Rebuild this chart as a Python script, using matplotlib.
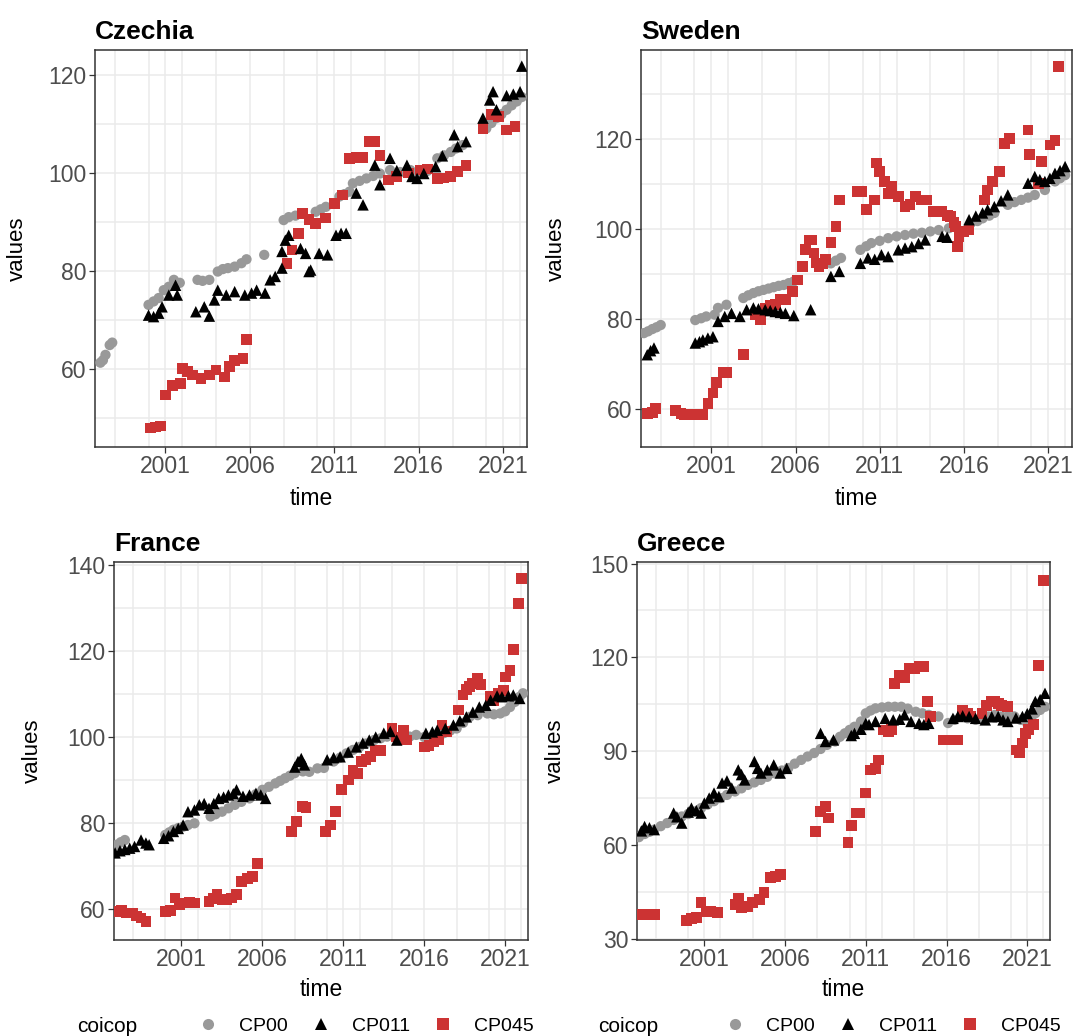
import numpy as np
import matplotlib
matplotlib.use("Agg")
import matplotlib.pyplot as plt
from matplotlib.lines import Line2D

plt.rcParams['font.family'] = ['Liberation Sans', 'DejaVu Sans']

# ---- Czechia ----
cz_cp00_t = [1997.15, 1997.3, 1997.45, 1997.7, 1997.85, 2000.0, 2000.3, 2000.6, 2000.9, 2001.2, 2001.5, 2001.85,
             2002.9, 2003.2, 2003.6, 2004.1, 2004.4, 2004.7, 2005.1, 2005.5, 2005.8, 2006.85, 2008.0, 2008.3, 2008.7,
             2009.9, 2010.2, 2010.5, 2011.3, 2011.6, 2011.9, 2012.1, 2012.5, 2012.9, 2013.3, 2013.7, 2014.3, 2014.9,
             2015.5, 2016.0, 2016.5, 2017.1, 2017.5, 2017.9, 2018.2, 2018.6, 2020.0, 2020.3, 2020.6, 2020.9, 2021.2,
             2021.5, 2021.8, 2022.1]
cz_cp00_v = [61.3, 61.8, 62.9, 64.9, 65.4, 73.1, 73.8, 74.5, 76.1, 76.8, 78.2, 77.6,
             78.2, 78.0, 78.2, 79.9, 80.4, 80.6, 80.9, 81.6, 82.4, 83.3, 90.4, 91.0, 91.3,
             92.1, 92.6, 93.1, 95.2, 95.7, 96.2, 97.9, 98.4, 98.9, 99.4, 99.9, 100.6, 100.2,
             100.6, 100.1, 100.4, 103.0, 103.6, 104.3, 105.0, 105.7, 109.1, 110.2, 111.2, 112.0, 112.9,
             113.8, 114.6, 115.5]
cz_cp011_t = [2000.0, 2000.3, 2000.6, 2000.8, 2001.2, 2001.6, 2001.7, 2002.8, 2003.3, 2003.6, 2003.9, 2004.1,
              2004.6, 2005.1, 2005.7, 2006.1, 2006.4, 2006.9, 2007.2, 2007.5, 2007.9, 2007.9, 2008.1, 2008.3,
              2009.0, 2009.3, 2009.5, 2009.6, 2010.1, 2010.6, 2011.1, 2011.4, 2011.7, 2012.3, 2012.7, 2013.4,
              2013.7, 2014.3, 2014.7, 2015.3, 2015.6, 2015.9, 2016.3, 2017.0, 2017.4, 2018.1, 2018.3, 2018.8,
              2019.8, 2020.2, 2020.4, 2020.6, 2021.2, 2021.6, 2022.0, 2022.1]
cz_cp011_v = [71.0, 70.7, 71.4, 72.7, 75.1, 77.1, 75.1, 71.7, 72.7, 70.8, 74.1, 76.1,
              75.1, 75.8, 75.1, 75.5, 76.1, 75.5, 78.2, 78.9, 80.6, 84.0, 86.3, 87.3,
              84.6, 83.6, 79.9, 80.2, 83.6, 83.3, 87.3, 87.7, 87.7, 95.9, 93.5, 101.6,
              97.6, 103.0, 100.5, 101.6, 99.3, 98.9, 99.9, 101.3, 103.5, 107.8, 105.4, 106.4,
              111.2, 114.9, 116.6, 112.9, 115.8, 116.1, 116.6, 121.8]
cz_cp045_t = [2000.1, 2000.4, 2000.7, 2001.0, 2001.4, 2001.9, 2002.0, 2002.3, 2002.6, 2003.1, 2003.6, 2004.0,
              2004.5, 2004.8, 2005.1, 2005.6, 2005.8, 2008.2, 2008.5, 2008.9, 2009.1, 2009.5, 2009.9, 2010.5,
              2011.0, 2011.5, 2011.9, 2012.3, 2012.7, 2013.1, 2013.4, 2013.7, 2014.2, 2014.7, 2015.4, 2016.1,
              2016.5, 2017.1, 2017.5, 2017.9, 2018.3, 2018.8, 2019.8, 2020.3, 2020.7, 2021.2, 2021.7]
cz_cp045_v = [48.0, 48.2, 48.4, 54.7, 56.7, 57.1, 60.1, 59.5, 58.8, 58.1, 58.8, 59.8,
              58.4, 60.5, 61.8, 62.2, 66.1, 81.6, 84.3, 87.6, 91.8, 90.5, 89.7, 90.8,
              93.8, 95.5, 103.0, 103.1, 103.2, 106.4, 106.4, 103.5, 98.6, 99.3, 100.0, 100.6,
              100.8, 98.9, 99.0, 99.3, 100.3, 101.6, 109.1, 112.0, 111.5, 108.8, 109.5]

# ---- Sweden ----
se_cp00_t = [1997.0, 1997.25, 1997.5, 1997.75, 1998.0, 2000.05, 2000.4, 2000.7, 2001.2, 2001.4, 2001.9, 2002.9,
             2003.2, 2003.5, 2003.8, 2004.1, 2004.4, 2004.7, 2005.0, 2005.3, 2005.6, 2005.9, 2008.1, 2008.4,
             2008.7, 2009.85, 2010.2, 2010.5, 2011.0, 2011.5, 2012.0, 2012.5, 2013.0, 2013.5, 2014.0, 2014.5,
             2015.1, 2016.4, 2016.8, 2017.1, 2017.5, 2017.8, 2018.6, 2019.0, 2019.4, 2019.8, 2020.2, 2020.8,
             2021.4, 2021.7, 2022.0]
se_cp00_v = [76.9, 77.3, 77.8, 78.2, 78.7, 79.8, 80.2, 80.6, 81.0, 82.5, 83.2, 84.7,
             85.3, 85.8, 86.2, 86.5, 86.8, 87.1, 87.4, 87.6, 88.0, 88.4, 92.4, 93.0,
             93.6, 95.4, 96.2, 96.9, 97.4, 98.0, 98.4, 98.7, 99.0, 99.2, 99.5, 99.8,
             100.2, 101.3, 101.8, 102.4, 103.0, 103.6, 105.4, 106.0, 106.5, 107.0, 107.6, 108.7,
             110.6, 111.3, 112.0]
se_cp011_t = [1997.2, 1997.4, 1997.6, 2000.05, 2000.3, 2000.5, 2000.8, 2001.1, 2001.4, 2001.8, 2002.2, 2002.7,
              2003.1, 2003.5, 2003.8, 2004.2, 2004.5, 2004.8, 2005.1, 2005.4, 2005.9, 2006.9, 2008.1, 2008.6,
              2009.85, 2010.3, 2010.7, 2011.1, 2011.5, 2012.1, 2012.5, 2012.9, 2013.3, 2013.7, 2014.7, 2015.0,
              2016.3, 2016.7, 2017.1, 2017.4, 2017.8, 2018.2, 2018.6, 2019.8, 2020.2, 2020.5, 2020.8, 2021.1,
              2021.4, 2021.7, 2022.0]
se_cp011_v = [72.1, 73.0, 73.6, 74.7, 75.0, 75.4, 75.8, 76.1, 79.5, 80.6, 81.3, 80.6,
              82.1, 82.5, 82.3, 82.1, 81.9, 81.7, 81.5, 81.3, 80.8, 82.1, 89.5, 90.6,
              92.4, 93.6, 93.3, 94.3, 93.9, 95.4, 95.8, 96.1, 96.8, 97.6, 98.4, 98.2,
              102.1, 102.9, 103.6, 104.3, 105.0, 106.3, 107.6, 110.2, 111.7, 111.0, 110.6, 111.3,
              112.4, 113.0, 113.9]
se_cp045_t = [1997.2, 1997.5, 1997.7, 1998.9, 1999.2, 1999.4, 1999.7, 2000.0, 2000.3, 2000.5, 2000.8, 2001.1,
              2001.3, 2001.7, 2001.9, 2002.9, 2003.6, 2003.9, 2004.2, 2004.5, 2004.8, 2005.1, 2005.4, 2005.8,
              2006.1, 2006.4, 2006.6, 2006.8, 2006.95, 2007.1, 2007.25, 2007.4, 2007.6, 2007.8, 2008.1, 2008.4,
              2008.6, 2009.7, 2009.95, 2010.2, 2010.7, 2010.8, 2011.0, 2011.3, 2011.5, 2011.7, 2012.1, 2012.5,
              2012.8, 2013.1, 2013.5, 2013.8, 2014.2, 2014.5, 2014.7, 2015.0, 2015.2, 2015.4, 2015.5, 2015.6,
              2015.7, 2016.0, 2016.3, 2017.2, 2017.4, 2017.7, 2018.1, 2018.4, 2018.7, 2019.8, 2019.9, 2020.4,
              2020.6, 2021.1, 2021.4, 2021.6]
se_cp045_v = [59.1, 59.3, 60.2, 59.7, 59.0, 58.7, 58.8, 58.7, 58.8, 58.9, 61.3, 63.6,
              65.9, 68.1, 68.1, 72.1, 81.0, 80.0, 82.5, 83.0, 83.2, 84.3, 84.3, 86.1,
              88.7, 91.7, 95.4, 97.6, 97.6, 94.7, 92.5, 91.7, 92.4, 93.2, 97.0, 100.6,
              106.5, 108.4, 108.4, 104.3, 106.5, 114.7, 112.8, 110.6, 108.0, 109.5, 107.3, 105.0,
              105.5, 107.3, 106.5, 106.5, 103.9, 103.9, 103.9, 103.0, 102.8, 101.5, 100.6, 96.1,
              98.4, 99.5, 99.9, 106.5, 108.7, 110.6, 112.8, 119.1, 120.2, 122.0, 116.5, 110.2,
              115.0, 118.7, 119.7, 136.1]

# ---- France ----
fr_cp00_t = [1997.0, 1997.25, 1997.5, 2000.0, 2000.25, 2000.5, 2000.8, 2001.1, 2001.4, 2001.8, 2002.8, 2003.1,
             2003.5, 2003.9, 2004.3, 2004.7, 2005.2, 2005.6, 2006.0, 2006.4, 2006.8, 2007.1, 2007.4, 2007.7,
             2008.0, 2008.5, 2008.9, 2009.4, 2009.8, 2010.4, 2010.8, 2011.2, 2011.6, 2012.0, 2012.4, 2012.9,
             2013.3, 2013.7, 2014.2, 2014.7, 2015.1, 2015.5, 2016.0, 2016.4, 2016.8, 2017.2, 2017.6, 2018.0,
             2018.4, 2018.8, 2019.3, 2019.9, 2020.3, 2020.7, 2021.0, 2021.3, 2021.6, 2021.9, 2022.1]
fr_cp00_v = [74.9, 75.5, 76.0, 77.2, 77.8, 78.4, 78.8, 79.1, 79.5, 79.9, 81.5, 82.0,
             82.6, 83.4, 84.2, 84.9, 85.7, 86.7, 87.7, 88.4, 89.2, 89.8, 90.4, 91.0,
             91.6, 92.0, 91.9, 92.7, 92.8, 94.3, 95.2, 96.2, 97.0, 97.7, 98.5, 99.3,
             99.7, 100.1, 99.9, 99.7, 100.1, 100.5, 100.0, 99.7, 100.3, 100.9, 101.5, 102.0,
             103.3, 104.7, 105.1, 105.5, 105.3, 105.5, 106.0, 107.0, 108.2, 109.4, 110.2]
fr_cp011_t = [1996.9, 1997.2, 1997.5, 1997.8, 1998.1, 1998.5, 1998.8, 1999.0, 1999.9, 2000.2, 2000.5, 2000.8,
              2001.1, 2001.4, 2001.8, 2002.1, 2002.4, 2002.7, 2003.0, 2003.3, 2003.6, 2003.9, 2004.2, 2004.4,
              2004.8, 2005.2, 2005.6, 2005.9, 2006.2, 2008.0, 2008.2, 2008.4, 2008.6, 2010.0, 2010.4, 2010.8,
              2011.3, 2011.8, 2012.2, 2012.6, 2013.0, 2013.5, 2013.9, 2014.3, 2016.1, 2016.5, 2016.8, 2017.3,
              2017.8, 2018.2, 2018.6, 2019.0, 2019.4, 2019.8, 2020.1, 2020.5, 2020.8, 2021.2, 2021.5, 2021.9]
fr_cp011_v = [73.0, 73.5, 73.8, 74.1, 74.5, 76.0, 75.3, 74.9, 76.4, 77.0, 78.0, 78.7,
              79.5, 82.6, 83.0, 84.2, 84.5, 83.4, 84.5, 85.7, 86.0, 86.5, 86.8, 87.7,
              86.2, 86.5, 86.9, 86.5, 85.7, 93.0, 94.3, 95.0, 93.5, 94.7, 95.2, 95.4,
              96.5, 97.7, 98.6, 99.3, 100.0, 100.9, 101.3, 99.3, 100.9, 101.2, 101.6, 102.0,
              102.8, 103.8, 104.7, 105.8, 107.0, 107.4, 108.6, 109.6, 109.4, 109.6, 109.8, 109.0]
fr_cp045_t = [1997.0, 1997.3, 1997.6, 1997.95, 1998.2, 1998.5, 1998.8, 2000.0, 2000.3, 2000.6, 2000.9, 2001.1,
              2001.5, 2001.8, 2002.7, 2003.0, 2003.2, 2003.5, 2003.8, 2004.1, 2004.4, 2004.7, 2005.1, 2005.4,
              2005.7, 2007.8, 2008.1, 2008.5, 2008.7, 2009.9, 2010.2, 2010.5, 2010.9, 2011.3, 2011.6, 2011.9,
              2012.1, 2012.4, 2012.7, 2013.0, 2013.3, 2014.0, 2014.3, 2014.7, 2014.9, 2016.0, 2016.3, 2016.6,
              2016.9, 2017.1, 2017.4, 2018.1, 2018.4, 2018.6, 2018.8, 2019.0, 2019.3, 2019.5, 2020.1, 2020.3,
              2020.6, 2020.9, 2021.0, 2021.3, 2021.5, 2021.8, 2022.0]
fr_cp045_v = [59.4, 59.6, 59.0, 59.0, 58.3, 57.8, 57.0, 59.4, 59.5, 62.5, 61.0, 61.3,
              61.5, 61.3, 61.7, 62.4, 63.3, 62.1, 62.1, 62.5, 63.3, 66.4, 67.1, 67.5,
              70.5, 78.0, 80.3, 83.8, 83.5, 78.0, 79.5, 82.6, 87.7, 90.0, 92.3, 91.5,
              94.3, 94.8, 95.4, 97.0, 96.8, 102.0, 100.0, 101.6, 99.3, 97.7, 98.0, 98.9,
              99.4, 102.8, 101.3, 106.3, 109.8, 111.0, 111.7, 112.5, 113.6, 112.2, 109.4, 108.5,
              110.2, 110.9, 114.0, 115.6, 120.4, 131.2, 136.9]

# ---- Greece ----
gr_cp00_t = [1996.95, 1997.3, 1997.6, 1997.9, 1998.3, 1998.7, 1999.1, 1999.6, 2000.0, 2000.4, 2000.8, 2001.2,
             2001.6, 2002.0, 2002.4, 2002.9, 2003.3, 2003.7, 2004.1, 2004.5, 2004.9, 2005.3, 2005.8, 2006.2,
             2006.6, 2007.0, 2007.4, 2007.8, 2008.2, 2008.6, 2009.1, 2009.4, 2009.7, 2010.0, 2010.3, 2010.7,
             2011.0, 2011.3, 2011.6, 2012.0, 2012.4, 2012.8, 2013.2, 2013.6, 2014.1, 2014.5, 2014.9, 2015.5,
             2016.1, 2016.5, 2016.9, 2017.3, 2017.8, 2018.2, 2018.6, 2019.0, 2019.4, 2019.8, 2020.2, 2020.6,
             2021.0, 2021.3, 2021.5, 2021.8, 2022.1]
gr_cp00_v = [62.5, 63.5, 64.2, 64.9, 66.0, 67.0, 68.0, 69.1, 69.9, 70.7, 71.8, 72.9,
             74.0, 75.0, 76.0, 77.1, 78.1, 79.2, 80.0, 80.8, 81.8, 83.0, 83.8, 84.6,
             86.0, 87.2, 88.3, 89.4, 90.7, 92.0, 93.1, 94.6, 95.7, 96.8, 97.8, 99.5,
             102.1, 103.0, 103.7, 104.0, 104.2, 104.2, 104.2, 103.6, 102.6, 102.1, 101.6, 101.1,
             99.0, 100.0, 101.1, 100.5, 100.0, 100.5, 101.1, 101.6, 101.1, 101.1, 101.1, 100.0,
             98.9, 99.5, 102.1, 103.2, 104.2]
gr_cp011_t = [1997.1, 1997.3, 1997.6, 1997.9, 1999.1, 1999.3, 1999.6, 2000.0, 2000.2, 2000.5, 2000.8, 2001.0,
              2001.3, 2001.6, 2001.9, 2002.1, 2002.4, 2002.7, 2003.1, 2003.3, 2003.5, 2004.1, 2004.3, 2004.5,
              2004.9, 2005.3, 2005.7, 2006.1, 2008.2, 2008.5, 2009.0, 2010.1, 2010.3, 2010.7, 2011.0, 2011.2,
              2011.6, 2012.2, 2012.7, 2013.1, 2013.4, 2013.8, 2014.3, 2014.6, 2014.9, 2016.4, 2016.7, 2017.0,
              2017.4, 2017.8, 2018.4, 2018.8, 2019.2, 2019.5, 2019.8, 2020.3, 2020.7, 2021.0, 2021.3, 2021.5,
              2021.8, 2022.1]
gr_cp011_v = [64.5, 65.9, 65.5, 64.9, 70.2, 69.0, 67.0, 70.5, 71.8, 71.0, 70.2, 73.4,
              75.0, 76.6, 75.5, 79.8, 80.5, 78.2, 84.0, 82.5, 80.8, 86.7, 84.5, 83.0,
              84.0, 85.6, 83.0, 84.5, 95.7, 93.1, 93.6, 95.0, 95.7, 97.0, 98.9, 98.5,
              99.5, 100.5, 100.0, 100.2, 101.6, 99.5, 98.9, 98.5, 98.9, 100.5, 101.1, 101.3,
              101.1, 100.5, 100.0, 101.0, 101.1, 100.0, 99.5, 100.6, 101.1, 102.0, 103.5, 105.9,
              106.5, 108.5]
gr_cp045_t = [1997.0, 1997.3, 1997.6, 1997.9, 1999.9, 2000.2, 2000.5, 2000.8, 2001.1, 2001.4, 2001.8, 2002.9,
              2003.1, 2003.3, 2003.7, 2004.0, 2004.4, 2004.7, 2005.1, 2005.4, 2005.7, 2007.9, 2008.2, 2008.5,
              2008.7, 2009.9, 2010.1, 2010.4, 2010.6, 2011.0, 2011.3, 2011.6, 2011.8, 2012.1, 2012.4, 2012.6,
              2012.8, 2013.1, 2013.4, 2013.7, 2014.0, 2014.3, 2014.6, 2014.8, 2015.0, 2015.8, 2016.1, 2016.4,
              2016.7, 2017.0, 2017.3, 2017.5, 2018.2, 2018.5, 2018.8, 2019.0, 2019.2, 2019.4, 2019.8, 2020.3,
              2020.5, 2020.7, 2020.9, 2021.1, 2021.4, 2021.7, 2022.0]
gr_cp045_v = [37.8, 37.8, 37.8, 37.8, 35.9, 36.4, 36.7, 41.5, 38.8, 38.8, 38.3, 40.9,
              43.0, 40.0, 40.4, 41.5, 42.5, 44.9, 49.5, 50.0, 50.5, 64.3, 70.7, 72.3,
              68.6, 60.8, 66.2, 70.2, 70.2, 76.6, 84.0, 84.5, 87.2, 96.8, 96.3, 97.0,
              111.7, 114.3, 113.5, 116.5, 116.5, 117.0, 117.0, 105.8, 101.1, 93.6, 93.6, 93.6,
              93.6, 103.2, 102.1, 101.0, 102.1, 104.5, 105.8, 106.0, 105.3, 104.5, 104.2, 90.4,
              89.4, 92.6, 95.7, 97.0, 98.5, 117.5, 144.5]

year_ticks = [2001, 2006, 2011, 2016, 2021]
even_years = [1998, 2000, 2002, 2004, 2008, 2010, 2012, 2014, 2018, 2020, 2022]

gray = '#999999'
red = '#CC3333'
grid_c = '#EBEBEB'
tick_c = '#4D4D4D'
border_c = '#333333'

fig = plt.figure(figsize=(10.77, 10.36), dpi=100)
W, H = 1077.0, 1036.0


def make_ax(px_left, px_right, px_top, px_bottom):
    return fig.add_axes([px_left / W, 1 - px_bottom / H, (px_right - px_left) / W, (px_bottom - px_top) / H])


panels = [
    ('Czechia', make_ax(95, 527, 50, 447), cz_cp00_t, cz_cp00_v, cz_cp011_t, cz_cp011_v, cz_cp045_t, cz_cp045_v,
     (44.1, 125.1), [60, 80, 100, 120], [50, 70, 90, 110], -0.155),
    ('Sweden', make_ax(641, 1072, 50, 447), se_cp00_t, se_cp00_v, se_cp011_t, se_cp011_v, se_cp045_t, se_cp045_v,
     (51.6, 139.8), [60, 80, 100, 120], [70, 90, 110, 130], -0.172),
    ('France', make_ax(114, 528, 562, 940), fr_cp00_t, fr_cp00_v, fr_cp011_t, fr_cp011_v, fr_cp045_t, fr_cp045_v,
     (52.7, 140.8), [60, 80, 100, 120, 140], [70, 90, 110, 130], -0.172),
    ('Greece', make_ax(637, 1050, 562, 940), gr_cp00_t, gr_cp00_v, gr_cp011_t, gr_cp011_v, gr_cp045_t, gr_cp045_v,
     (29.6, 150.5), [30, 60, 90, 120, 150], [45, 75, 105, 135], -0.172),
]

for name, ax, t0, v0, t1, v1, t2, v2, ylim, yt, ymin, ylab_x in panels:
    ax.scatter(t0, v0, s=55, marker='o', color=gray, edgecolors='none', zorder=3)
    ax.scatter(t1, v1, s=68, marker='^', color='black', edgecolors='none', zorder=4)
    ax.scatter(t2, v2, s=60, marker='s', color=red, edgecolors='none', zorder=3.5)
    ax.set_xlim(1996.83, 2022.41)
    ax.set_ylim(*ylim)
    ax.set_xticks(year_ticks)
    ax.set_xticklabels([str(y) for y in year_ticks])
    ax.set_xticks(even_years, minor=True)
    ax.set_yticks(yt)
    ax.set_yticks(ymin, minor=True)
    ax.grid(True, which='both', color=grid_c, linewidth=1.1, zorder=0)
    ax.set_axisbelow(True)
    ax.tick_params(which='major', length=4, width=0.9, color=border_c, labelsize=16.5, labelcolor=tick_c, pad=2)
    ax.tick_params(which='minor', length=0)
    for sp in ax.spines.values():
        sp.set_color(border_c)
        sp.set_linewidth(1.1)
    ax.set_title(name, loc='left', fontsize=19, fontweight='bold', pad=8)
    ax.set_xlabel('time', fontsize=16.5)
    ax.set_ylabel('values', fontsize=16)
    ax.xaxis.set_label_coords(0.5, -0.1)
    ax.yaxis.set_label_coords(ylab_x, 0.5)

# legends under the bottom panels
handles = [
    Line2D([], [], linestyle='none', marker='o', markersize=8, color=gray, markeredgewidth=0),
    Line2D([], [], linestyle='none', marker='^', markersize=9, color='black', markeredgewidth=0),
    Line2D([], [], linestyle='none', marker='s', markersize=8, color=red, markeredgewidth=0),
]
labels = ['CP00', 'CP011', 'CP045']
for cx, tx in [(366 / W, 107 / W), (893 / W, 628 / W)]:
    fig.legend(handles, labels, loc='center', bbox_to_anchor=(cx, 1 - 1026 / H), ncol=3, frameon=False,
               fontsize=14, handletextpad=1.1, columnspacing=1.2, handlelength=1.0)
    fig.text(tx, 1 - 1026 / H, 'coicop', fontsize=15, ha='center', va='center')

fig.savefig('out.png', dpi=100)
